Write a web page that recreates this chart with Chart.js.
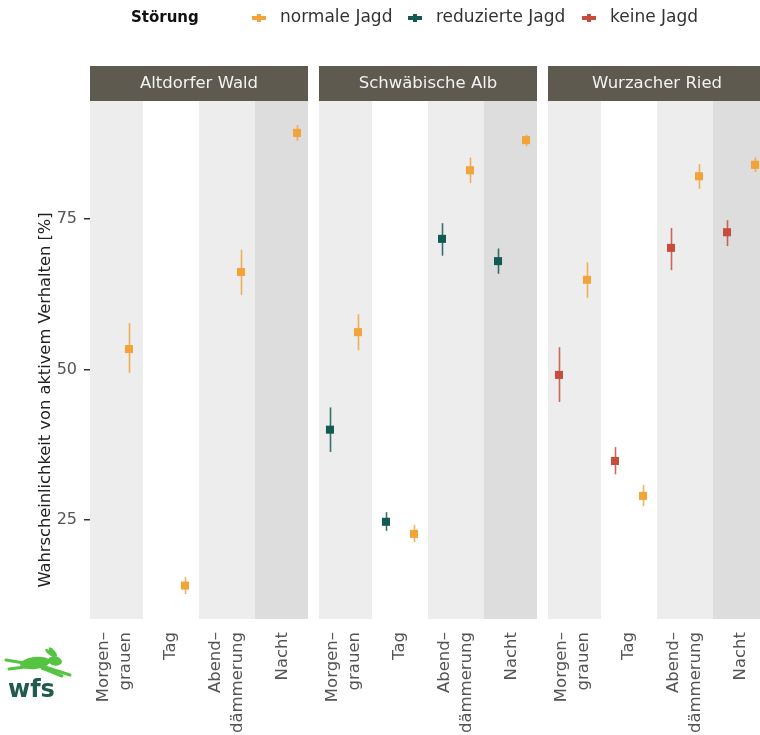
<!DOCTYPE html>
<html lang="de">
<head>
<meta charset="utf-8">
<title>Aktivität nach Tageszeit</title>
<script src="https://cdn.jsdelivr.net/npm/chart.js@4"></script>
<style>
    html, body { margin: 0; padding: 0; background: #fff; }
    #wrap { width: 760px; height: 735px; position: relative; }
</style>
</head>
<body>
<div id="wrap"><canvas id="chart" width="760" height="735"></canvas></div>
<script>
// Data
const regions = ['Altdorfer Wald', 'Schwäbische Alb', 'Wurzacher Ried'];
const dayTimes = [['Morgen–', 'grauen'], ['Tag'], ['Abend–', 'dämmerung'], ['Nacht']];
const yTicks = [25, 50, 75];
const groups = ['normale Jagd', 'reduzierte Jagd', 'keine Jagd'];

// one row per region, one column per time of day (null = not sampled)
const normalMean = [[53.4, 14.1, 66.2, 89.3], [56.2, 22.7, 83.1, 88.1], [64.9, 29.0, 82.1, 84.0]];
const normalLow  = [[49.4, 12.7, 62.4, 88.0], [53.2, 21.3, 81.0, 87.1], [61.9, 27.3, 80.0, 82.8]];
const normalHigh = [[57.7, 15.5, 69.9, 90.6], [59.2, 24.2, 85.2, 89.0], [67.8, 30.8, 84.1, 85.2]];

const reducedMean = [null, [40.0, 24.7, 71.7, 68.0], null];
const reducedLow  = [null, [36.3, 23.2, 68.9, 65.9], null];
const reducedHigh = [null, [43.7, 26.3, 74.3, 70.1], null];

const noneMean = [null, null, [49.1, 34.8, 70.2, 72.8]];
const noneLow  = [null, null, [44.6, 32.6, 66.5, 70.5]];
const noneHigh = [null, null, [53.7, 37.1, 73.5, 74.8]];

// Style
const colors = { normal: '#f2a33a', reduced: '#135b52', none: '#c64c3d' };
const FONT = "'DejaVu Sans', sans-serif";

// facet geometry in x units (one unit = one time-of-day slot)
const facet = { xMin: 0.554, xMax: 4.446, gap: 0.196, dodge: 0.25 };
facet.stride = facet.xMax - facet.xMin + facet.gap;

const toPoints = (mean, low, high, dodge) => {
    const pts = [];
    mean.forEach((row, r) => {
        if (!row) return;
        row.forEach((v, t) => {
            pts.push({ x: r * facet.stride + t + 1 + dodge, y: v, lo: low[r][t], hi: high[r][t] });
        });
    });
    return pts;
};

const datasets = [
    { label: groups[0], data: toPoints(normalMean, normalLow, normalHigh, facet.dodge), color: colors.normal },
    { label: groups[1], data: toPoints(reducedMean, reducedLow, reducedHigh, -facet.dodge), color: colors.reduced },
    { label: groups[2], data: toPoints(noneMean, noneLow, noneHigh, -facet.dodge), color: colors.none }
].map(ds => ({
    ...ds,
    backgroundColor: ds.color,
    borderWidth: 0,
    pointStyle: 'rect',
    pointRadius: 5.7,
    pointHoverRadius: 5.7
}));

const withAlpha = (hex, a) => {
    const n = parseInt(hex.slice(1), 16);
    return `rgba(${n >> 16}, ${(n >> 8) & 255}, ${n & 255}, ${a})`;
};

// Panel backgrounds, strips and error bars
const panelPlugin = {
    id: 'panels',
    beforeDatasetsDraw(chart) {
        const { ctx, chartArea, scales: { x } } = chart;
        const bandFill = ['#ededed', '#ffffff', '#ededed', '#dcdddc'];
        ctx.save();
        regions.forEach((name, r) => {
            const off = r * facet.stride;
            const left = x.getPixelForValue(off + facet.xMin);
            const right = x.getPixelForValue(off + facet.xMax);
            bandFill.forEach((fill, t) => {
                const a = Math.max(x.getPixelForValue(off + t + 0.5), left);
                const b = Math.min(x.getPixelForValue(off + t + 1.5), right);
                ctx.fillStyle = fill;
                ctx.fillRect(a, chartArea.top, b - a, chartArea.bottom - chartArea.top);
            });
            // strip
            ctx.fillStyle = '#5e5a4f';
            ctx.fillRect(left, chartArea.top - 35, right - left, 35);
            ctx.fillStyle = '#f2f2f2';
            ctx.font = `16.5px ${FONT}`;
            ctx.textAlign = 'center';
            ctx.textBaseline = 'middle';
            ctx.fillText(name, (left + right) / 2, chartArea.top - 17);
        });

        // error bars
        const y = chart.scales.y;
        chart.data.datasets.forEach(ds => {
            ctx.strokeStyle = withAlpha(ds.color, 0.85);
            ctx.lineWidth = 1.6;
            ds.data.forEach(p => {
                const px = Math.round(x.getPixelForValue(p.x)) + 0.5;
                ctx.beginPath();
                ctx.moveTo(px, y.getPixelForValue(p.lo));
                ctx.lineTo(px, y.getPixelForValue(p.hi));
                ctx.stroke();
            });
        });
        ctx.restore();
    }
};

// Axis labels, legend and logo
const decorPlugin = {
    id: 'decor',
    afterDraw(chart) {
        const { ctx, chartArea, scales: { x } } = chart;
        ctx.save();

        // x tick labels, rotated, lines centred on the slot
        ctx.fillStyle = '#555';
        ctx.font = `16.5px ${FONT}`;
        ctx.textAlign = 'right';
        ctx.textBaseline = 'middle';
        const lineGap = 22;
        regions.forEach((_, r) => {
            dayTimes.forEach((lines, t) => {
                const cx = x.getPixelForValue(r * facet.stride + t + 1);
                lines.forEach((line, i) => {
                    const lx = cx + (i - (lines.length - 1) / 2) * lineGap;
                    ctx.save();
                    ctx.translate(lx, chartArea.bottom + 13);
                    ctx.rotate(-Math.PI / 2);
                    ctx.fillText(line, 0, 0);
                    ctx.restore();
                });
            });
        });

        // y axis title
        ctx.save();
        ctx.fillStyle = '#222';
        ctx.font = `16.3px ${FONT}`;
        ctx.textAlign = 'center';
        ctx.translate(46, 400);
        ctx.rotate(-Math.PI / 2);
        ctx.fillText('Wahrscheinlichkeit von aktivem Verhalten [%]', 0, 0);
        ctx.restore();

        // legend
        const legendY = 18;
        ctx.textAlign = 'left';
        ctx.fillStyle = '#111';
        ctx.font = `bold 15px ${FONT}`;
        ctx.fillText('Störung', 131, legendY);
        ctx.font = `17px ${FONT}`;
        const keyX = [259, 415, 589];
        chart.data.datasets.forEach((ds, i) => {
            const kx = keyX[i];
            ctx.fillStyle = ds.color;
            ctx.fillRect(kx - 7, legendY - 2, 14, 4);
            ctx.fillRect(kx - 2, legendY - 4, 4, 8);
            ctx.fillStyle = '#333';
            ctx.fillText(ds.label, kx + 21, legendY);
        });

        // wfs logo
        ctx.fillStyle = '#55c443';
        ctx.beginPath();
        ctx.ellipse(35, 663, 15, 6, -0.12, 0, Math.PI * 2);
        ctx.ellipse(55, 661, 7, 4.5, 0.2, 0, Math.PI * 2);
        ctx.fill();
        ctx.beginPath();
        ctx.ellipse(50, 653, 2, 6, -0.9, 0, Math.PI * 2);
        ctx.ellipse(53, 652, 2, 6, -0.7, 0, Math.PI * 2);
        ctx.fill();
        ctx.strokeStyle = '#55c443';
        ctx.lineCap = 'round';
        ctx.lineWidth = 3;
        [[[45, 667], [70, 675]], [[42, 668], [62, 676]], [[24, 663], [6, 660]], [[25, 667], [9, 669]]].forEach(([a, b]) => {
            ctx.beginPath();
            ctx.moveTo(a[0], a[1]);
            ctx.lineTo(b[0], b[1]);
            ctx.stroke();
        });
        ctx.fillStyle = '#1f5c4d';
        ctx.font = `bold 24px ${FONT}`;
        ctx.textBaseline = 'alphabetic';
        ctx.fillText('wfs', 8, 697);

        ctx.restore();
    }
};

document.addEventListener('DOMContentLoaded', () => {
    new Chart(document.getElementById('chart'), {
        type: 'scatter',
        data: { datasets },
        options: {
            responsive: false,
            animation: false,
            layout: { autoPadding: false, padding: { top: 101, bottom: 116, left: 0, right: 0 } },
            plugins: { legend: { display: false }, tooltip: { enabled: false } },
            scales: {
                x: {
                    type: 'linear',
                    display: false,
                    min: facet.xMin,
                    max: 2 * facet.stride + facet.xMax - 0.107
                },
                y: {
                    min: 8.55,
                    max: 94.6,
                    afterBuildTicks: scale => { scale.ticks = yTicks.map(v => ({ value: v })); },
                    afterFit: scale => { scale.width = 90; },
                    border: { display: false },
                    grid: { drawOnChartArea: false, tickLength: 6, color: '#333', lineWidth: 1.5 },
                    ticks: { color: '#555', font: { family: FONT, size: 16 }, padding: 7 }
                }
            }
        },
        plugins: [panelPlugin, decorPlugin]
    });
});
</script>
</body>
</html>
